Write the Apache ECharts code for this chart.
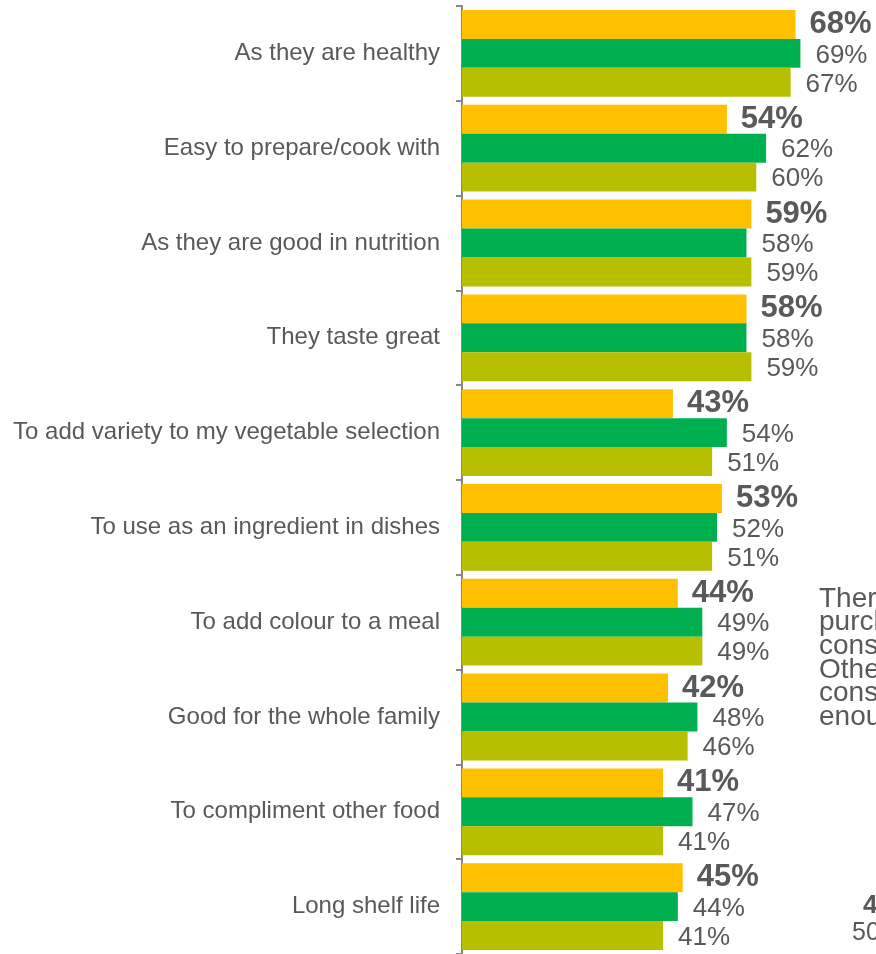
<!DOCTYPE html>
<html>
<head>
<meta charset="utf-8">
<script src="https://cdn.jsdelivr.net/npm/echarts@6/dist/echarts.min.js"></script>
<style>
  html, body { margin: 0; padding: 0; background: #ffffff; }
  #chart { width: 876px; height: 954px; }
</style>
</head>
<body>
<div id="chart"></div>
<script>
// Reasons for buying, share of respondents (%), three groups per reason
const categories = [
  'As they are healthy',
  'Easy to prepare/cook with',
  'As they are good in nutrition',
  'They taste great',
  'To add variety to my vegetable selection',
  'To use as an ingredient in dishes',
  'To add colour to a meal',
  'Good for the whole family',
  'To compliment other food',
  'Long shelf life'
];
const groupA = [68, 54, 59, 58, 43, 53, 44, 42, 41, 45];
const groupB = [69, 62, 58, 58, 54, 52, 49, 48, 47, 44];
const groupC = [67, 60, 59, 59, 51, 51, 49, 46, 41, 41];

const FONT = '"Liberation Sans", Arial, sans-serif';
const GREY = '#595959';

function series(name, data, color, bold) {
  return {
    name: name,
    type: 'bar',
    data: data,
    barGap: '0%',
    barCategoryGap: '8.4%',
    itemStyle: { color: color },
    label: {
      show: true,
      position: 'right',
      distance: bold ? 14 : 15,
      offset: bold ? [0, 0] : [0, 2],
      formatter: '{c}%',
      color: GREY,
      fontFamily: FONT,
      fontSize: bold ? 31 : 26,
      fontWeight: bold ? 'bold' : 'normal'
    }
  };
}

const chart = echarts.init(document.getElementById('chart'), null, { renderer: 'canvas' });
chart.setOption({
  animation: false,
  backgroundColor: '#ffffff',
  grid: { left: 462, top: 6, width: 412, height: 950 },
  xAxis: {
    type: 'value',
    min: 0,
    max: 84,
    show: false
  },
  yAxis: {
    type: 'category',
    data: categories,
    inverse: true,
    axisLine: { show: true, lineStyle: { color: '#888888', width: 2 } },
    axisTick: { show: true, length: 6, lineStyle: { color: '#888888', width: 2 } },
    axisLabel: {
      margin: 22,
      color: GREY,
      fontFamily: FONT,
      fontSize: 24
    }
  },
  series: [
    series('Group A', groupA, '#FFC000', true),
    series('Group B', groupB, '#00B050', false),
    series('Group C', groupC, '#B8BE00', false)
  ],
  graphic: [
    {
      type: 'text',
      left: 819,
      top: 585,
      style: {
        text: 'There\npurchase\nconsumers\nOthers\nconsumers\nenough',
        fill: GREY,
        font: '28px ' + FONT,
        lineHeight: 23.6
      }
    },
    {
      type: 'text',
      left: 863,
      top: 893,
      style: { text: '4', fill: GREY, font: 'bold 26px ' + FONT }
    },
    {
      type: 'text',
      left: 852,
      top: 921,
      style: { text: '50', fill: GREY, font: '25px ' + FONT }
    }
  ]
});
</script>
</body>
</html>
